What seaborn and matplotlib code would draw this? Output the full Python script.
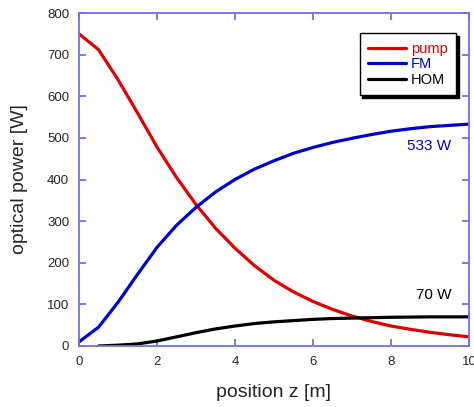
import numpy as np
import pandas as pd
import matplotlib
matplotlib.use("Agg")
import matplotlib.pyplot as plt
import seaborn as sns
from matplotlib.lines import Line2D

z = [0, 0.5, 1, 1.5, 2, 2.5, 3, 3.5, 4, 4.5, 5, 5.5, 6, 6.5, 7, 7.5, 8, 8.5, 9, 9.5, 10]
pump = [750, 712, 640, 560, 478, 405, 340, 283, 235, 193, 158, 130, 107, 88, 72, 59, 48, 40, 33, 27, 22]
fm = [10, 45, 105, 172, 237, 290, 333, 370, 400, 425, 445, 463, 477, 489, 499, 508, 516, 522, 527, 530, 533]
hom_z = [0.5, 1, 1.5, 2, 2.5, 3, 3.5, 4, 4.5, 5, 5.5, 6, 6.5, 7, 7.5, 8, 8.5, 9, 9.5, 10]
hom = [0, 2, 5, 12, 22, 32, 41, 48, 54, 58, 61, 64, 66, 67, 68, 69, 69.5, 70, 70, 70]

series = ["pump", "FM", "HOM"]
colors = {"pump": "#dd0000", "FM": "#0000cc", "HOM": "#000000"}

df = pd.concat([
    pd.DataFrame({"z": z, "P": pump, "s": "pump"}),
    pd.DataFrame({"z": z, "P": fm, "s": "FM"}),
    pd.DataFrame({"z": hom_z, "P": hom, "s": "HOM"}),
])

sns.set_style("white")
plt.rcParams['font.family'] = ['Liberation Sans', 'DejaVu Sans']

fig = plt.figure(figsize=(4.74, 4.07), dpi=100)
ax = fig.add_axes([79/474, 1 - 346/407, 390/474, 333/407])

sns.lineplot(data=df, x="z", y="P", hue="s", hue_order=series, palette=colors,
             linewidth=2.3, ax=ax, legend=False)

ax.set_xlim(0, 10)
ax.set_ylim(0, 800)
ax.set_xticks([0, 2, 4, 6, 8, 10])
ax.set_yticks(range(0, 801, 100))
ax.set_xlabel("position z [m]", fontsize=14, labelpad=12)
ax.set_ylabel("optical power [W]", fontsize=14, labelpad=14)
spine_c = "#7070ee"
for sp in ax.spines.values():
    sp.set_color(spine_c)
    sp.set_linewidth(1.3)
ax.tick_params(direction="in", length=5, width=1.3, color=spine_c, labelsize=9.5,
               top=True, right=True, bottom=True, left=True, pad=7)

ax.text(9.55, 480, "533 W", color="#0000cc", fontsize=11, ha="right", va="center")
ax.text(9.55, 123, "70 W", color="black", fontsize=11, ha="right", va="center")

handles = [Line2D([], [], color=colors[s], lw=2.3) for s in series]
leg = ax.legend(handles, series, loc="upper right", bbox_to_anchor=(0.967, 0.94),
                frameon=True, fancybox=False, shadow={'color': 'black', 'alpha': 1},
                fontsize=10.5, handlelength=2.6, handletextpad=0.3, borderpad=0.6,
                labelspacing=0.1, borderaxespad=0)
leg.get_frame().set_edgecolor("black")
leg.get_frame().set_linewidth(1.0)
for t, s in zip(leg.get_texts(), series):
    t.set_color(colors[s])

fig.savefig("out.png", dpi=100)
